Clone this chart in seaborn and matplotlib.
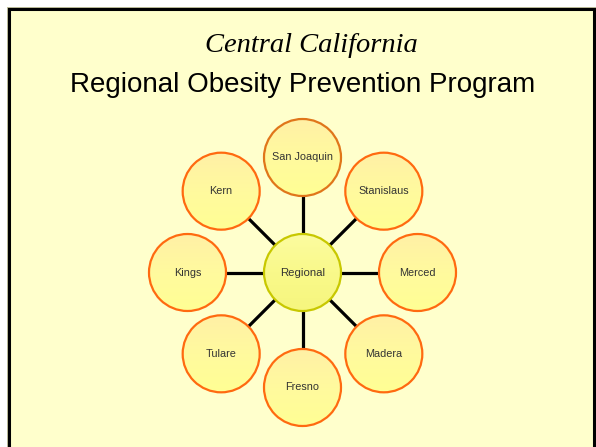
import numpy as np
import matplotlib
matplotlib.use("Agg")
import matplotlib.pyplot as plt
from matplotlib.patches import Circle, Rectangle
from matplotlib.colors import LinearSegmentedColormap
import seaborn as sns
import pandas as pd

sns.set_theme(style="white")
plt.rcParams['font.family'] = ['Liberation Sans', 'DejaVu Sans']

# ---- data ----
title_script = "Central California"
title_main = "Regional Obesity Prevention Program"
hub_label = "Regional"
counties = ["San Joaquin", "Stanislaus", "Merced", "Madera",
            "Fresno", "Tulare", "Kings", "Kern"]
edge_colors = ["#E0761A", "#FF6A10", "#FF6A10", "#FF6A10",
               "#FF6A10", "#FF6A10", "#FF6A10", "#FF6A10"]

# ---- layout (pixel units) ----
W, H = 596, 447
hub = (302.5, 272.5)
ring = 115.0
node_r = 38.5
angles = np.deg2rad(90 - 45 * np.arange(len(counties)))
nodes = pd.DataFrame({
    "name": counties,
    "x": hub[0] + ring * np.cos(angles),
    "y": hub[1] - ring * np.sin(angles),
    "edge": edge_colors,
})

fig = plt.figure(figsize=(W / 100, H / 100), dpi=100, facecolor="white")
ax = fig.add_axes([0, 0, 1, 1])
ax.set_xlim(0, W)
ax.set_ylim(H, 0)
ax.set_aspect("equal")
ax.axis("off")

# slide background + border
ax.add_patch(Rectangle((6.5, 6.5), 590, 460, facecolor="#BDBD9A", edgecolor="none", zorder=0))
ax.add_patch(Rectangle((8.5, 8.5), 585.5, 460, facecolor="#FFFFCC", edgecolor="black",
                       linewidth=2.2, zorder=0.5))

# spokes
spokes = pd.concat([
    pd.DataFrame({"x": [hub[0], r.x], "y": [hub[1], r.y], "id": i})
    for i, r in enumerate(nodes.itertuples())
])
sns.lineplot(data=spokes, x="x", y="y", units="id", estimator=None, sort=False,
             color="black", linewidth=2.3, ax=ax, legend=False, zorder=1)
ax.set_xlim(0, W)
ax.set_ylim(H, 0)
ax.axis("off")

grad = np.linspace(0, 1, 256).reshape(-1, 1)
cmap_c = LinearSegmentedColormap.from_list("c", ["#FFF0A6", "#FFFA9E", "#FFFF94"])
cmap_h = LinearSegmentedColormap.from_list("h", ["#FCFCA0", "#F9F98A", "#F6F67E"])


def node(x, y, label, edge, cmap, fs):
    c = Circle((x, y), node_r, transform=ax.transData, facecolor="none", edgecolor="none")
    ax.add_patch(c)
    im = ax.imshow(grad, cmap=cmap, extent=(x - node_r, x + node_r, y + node_r, y - node_r),
                   aspect="auto", zorder=2, interpolation="bilinear")
    im.set_clip_path(c)
    ax.add_patch(Circle((x, y), node_r, facecolor="none", edgecolor=edge, linewidth=1.6, zorder=3))
    ax.text(x, y, label, ha="center", va="center", fontsize=fs, color="#333333", zorder=4)


for r in nodes.itertuples():
    node(r.x, r.y, r.name, r.edge, cmap_c, 7.8)
node(hub[0], hub[1], hub_label, "#C8C800", cmap_h, 8.2)

ax.set_xlim(0, W)
ax.set_ylim(H, 0)

ax.text(311.5, 52, title_script, ha="center", va="baseline", fontsize=20.5,
        fontstyle="italic", family=["Liberation Serif", "DejaVu Serif"], color="black")
ax.text(303, 92, title_main, ha="center", va="baseline", fontsize=20, color="black")

fig.savefig("out.png", dpi=100, facecolor="white")
